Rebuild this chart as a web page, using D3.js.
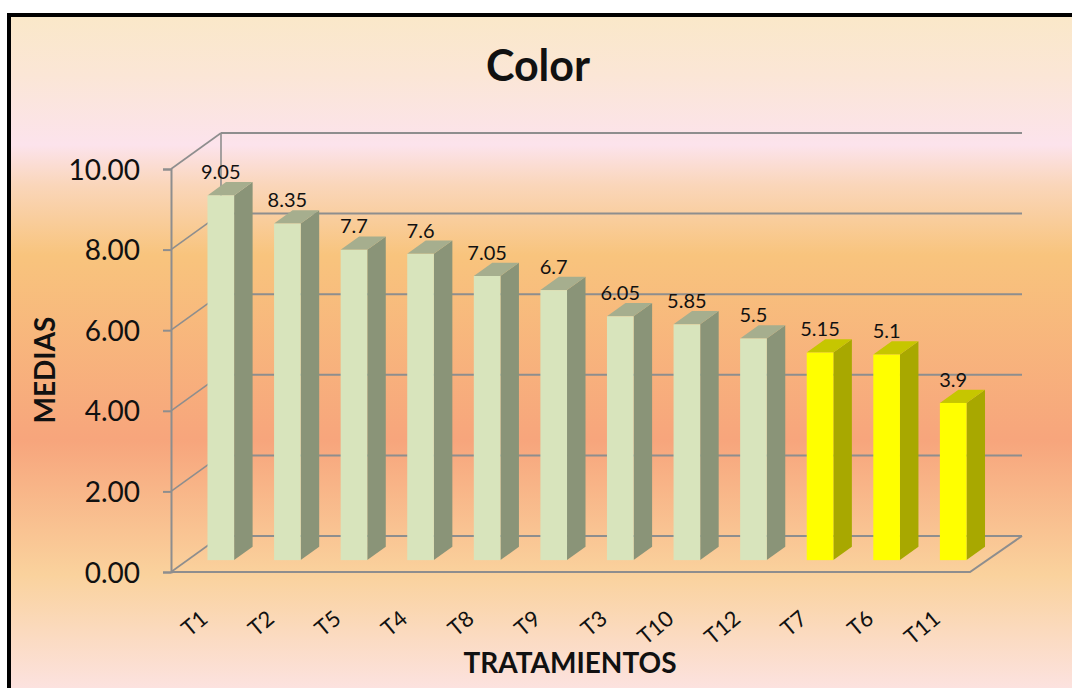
<!DOCTYPE html>
<html>
<head>
<meta charset="utf-8">
<script src="https://cdn.jsdelivr.net/npm/d3@7"></script>
<style>
  html, body { margin: 0; padding: 0; background: #ffffff; }
  svg { display: block; }
  text { font-family: Lato, "Open Sans", sans-serif; fill: #111; }
</style>
</head>
<body>
<svg id="chart" width="1072" height="688"></svg>
<script>
// Treatment means, sorted from highest to lowest
const categories = ["T1", "T2", "T5", "T4", "T8", "T9", "T3", "T10", "T12", "T7", "T6", "T11"];
const values = [9.05, 8.35, 7.7, 7.6, 7.05, 6.7, 6.05, 5.85, 5.5, 5.15, 5.1, 3.9];
// Treatments in the lowest group are shown in yellow
const lowGroup = ["T7", "T6", "T11"];
const yTicks = [0, 2, 4, 6, 8, 10];
const chartTitle = "Color";
const yTitle = "MEDIAS";
const xTitle = "TRATAMIENTOS";

const svg = d3.select("#chart");

// Background gradient of the chart area
const defs = svg.append("defs");
const grad = defs.append("linearGradient")
  .attr("id", "bg").attr("gradientUnits", "userSpaceOnUse")
  .attr("x1", 0).attr("y1", 17).attr("x2", 0).attr("y2", 688);
[
  [17, "#FAE8C9"], [75, "#FBE6D6"], [145, "#FCE3EC"], [185, "#FAD6BA"],
  [255, "#F8C47D"], [440, "#F7A57C"], [575, "#FAD29D"], [688, "#FCE2DF"]
].forEach(([y, c]) => grad.append("stop").attr("offset", (y - 17) / 671).attr("stop-color", c));

svg.append("rect").attr("x", 9).attr("y", 15).attr("width", 1080).attr("height", 700)
  .attr("fill", "url(#bg)").attr("stroke", "#000").attr("stroke-width", 4);

// Plot geometry: front plane plus a depth vector for the 3-D walls
const x = d3.scaleBand().domain(categories).range([171, 970]).paddingInner(0).paddingOuter(0);
const y = d3.scaleLinear().domain([0, 10]).range([572, 169]);
const DX = 50, DY = -36;          // full depth of the floor/walls
const F0 = 0.33, F1 = 0.70;       // depth fractions of bar front and back faces
const step = x.step();
const barOff = step * 0.3, barW = step * 0.4;

const gridColor = "#8E8E8E";
const g = svg.append("g");

// Back wall gridlines and left wall diagonals
yTicks.forEach(t => {
  g.append("line")
    .attr("x1", x.range()[0] + DX).attr("x2", x.range()[1] + DX + 2)
    .attr("y1", y(t) + DY).attr("y2", y(t) + DY)
    .attr("stroke", gridColor).attr("stroke-width", 2);
  g.append("line")
    .attr("x1", x.range()[0]).attr("y1", y(t))
    .attr("x2", x.range()[0] + DX).attr("y2", y(t) + DY)
    .attr("stroke", gridColor).attr("stroke-width", 1.6);
});
// Back vertical edge of the left wall
g.append("line")
  .attr("x1", x.range()[0] + DX).attr("x2", x.range()[0] + DX)
  .attr("y1", y(10) + DY).attr("y2", y(0) + DY)
  .attr("stroke", gridColor).attr("stroke-width", 1.6);
// Floor front and right edges
g.append("polyline")
  .attr("points", [[x.range()[0], y(0)], [x.range()[1], y(0)], [x.range()[1] + DX + 2, y(0) + DY]].map(p => p.join(",")).join(" "))
  .attr("fill", "none").attr("stroke", gridColor).attr("stroke-width", 2);

// Front value axis
const yAxis = d3.axisLeft(y).tickValues(yTicks).tickFormat(d3.format(".2f"))
  .tickSize(8).tickPadding(23);
const ax = svg.append("g").attr("transform", `translate(${x.range()[0]},0)`).call(yAxis);
ax.select(".domain").attr("stroke", gridColor).attr("stroke-width", 2);
ax.selectAll(".tick line").attr("stroke", gridColor).attr("stroke-width", 2);
ax.selectAll(".tick text").attr("font-size", 28).attr("font-family", "Lato, sans-serif")
  .attr("fill", "#111").attr("dy", "0.36em");

// 3-D bars
const pal = {
  base: { front: "#D8E4BC", side: "#8A9478", top: "#A6AE8E" },
  low: { front: "#FFFF00", side: "#A8A800", top: "#C6C600" }
};
const bars = svg.append("g");
categories.forEach((c, i) => {
  const v = values[i];
  const col = lowGroup.includes(c) ? pal.low : pal.base;
  const xl = x(c) + barOff + F0 * DX, xr = xl + barW;
  const yb = y(0) + F0 * DY, yt = y(v) + F0 * DY;
  const ddx = (F1 - F0) * DX, ddy = (F1 - F0) * DY;
  const poly = pts => pts.map(p => p.join(",")).join(" ");
  bars.append("polygon").attr("points", poly([[xr, yb], [xr + ddx, yb + ddy], [xr + ddx, yt + ddy], [xr, yt]]))
    .attr("fill", col.side);
  bars.append("polygon").attr("points", poly([[xl, yt], [xr, yt], [xr + ddx, yt + ddy], [xl + ddx, yt + ddy]]))
    .attr("fill", col.top);
  bars.append("rect").attr("x", xl).attr("y", yt).attr("width", barW).attr("height", yb - yt)
    .attr("fill", col.front);
  // value label above the bar
  svg.append("text")
    .attr("x", xl + barW / 2).attr("y", yt + ddy - 3)
    .attr("text-anchor", "middle").attr("font-size", 20)
    .text(String(v));
});

// Category labels, slanted
categories.forEach(c => {
  const ax0 = x(c) + step / 2 + 5, ay0 = 621;
  svg.append("text")
    .attr("transform", `translate(${ax0},${ay0}) rotate(-40)`)
    .attr("text-anchor", "end").attr("font-size", 22)
    .text(c);
});

// Titles
svg.append("text").attr("x", 538).attr("y", 81).attr("text-anchor", "middle")
  .attr("font-size", 43).attr("font-weight", "bold").text(chartTitle);
svg.append("text").attr("x", 570).attr("y", 673).attr("text-anchor", "middle")
  .attr("font-size", 28).attr("font-weight", "bold").text(xTitle);
svg.append("text").attr("transform", "translate(55,370) rotate(-90)").attr("text-anchor", "middle")
  .attr("font-size", 28).attr("font-weight", "bold").text(yTitle);
</script>
</body>
</html>
